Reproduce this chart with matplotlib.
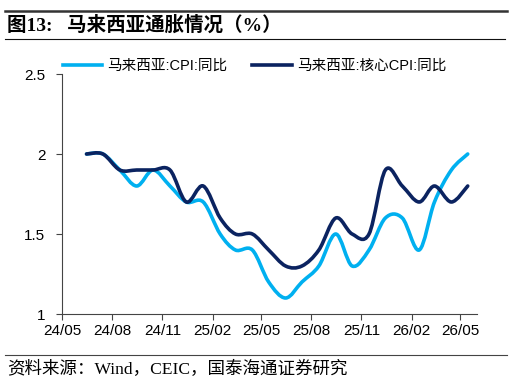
import matplotlib
matplotlib.use("Agg")
import matplotlib.pyplot as plt
import matplotlib.dates as mdates
from matplotlib.path import Path
from matplotlib.patches import PathPatch
from matplotlib.lines import Line2D
import numpy as np
import pandas as pd

# ---- data ----
months = pd.date_range("2024-06-01", periods=24, freq="MS") + pd.Timedelta(days=14)
cpi = [2.0, 2.0, 1.9, 1.8, 1.9, 1.8, 1.7, 1.7, 1.5, 1.4, 1.4, 1.2,
       1.1, 1.2, 1.3, 1.5, 1.3, 1.4, 1.6, 1.6, 1.4, 1.7, 1.9, 2.0]
core = [2.0, 2.0, 1.9, 1.9, 1.9, 1.9, 1.7, 1.8, 1.6, 1.5, 1.5, 1.4,
        1.3, 1.3, 1.4, 1.6, 1.5, 1.5, 1.9, 1.8, 1.7, 1.8, 1.7, 1.8]
tick_dates = pd.date_range("2024-05-01", "2026-05-01", freq="3MS")
tick_labels = ["24/05", "24/08", "24/11", "25/02", "25/05", "25/08", "25/11", "26/02", "26/05"]
series_names = ["马来西亚:CPI:同比", "马来西亚:核心CPI:同比"]
colors = ["#00B0F0", "#0B2360"]

title = "图13:   马来西亚通胀情况（%）"
source = "资料来源：Wind，CEIC，国泰海通证券研究"

W, H = 512, 382
fig = plt.figure(figsize=(W / 100, H / 100), dpi=100)
ax = fig.add_axes([62 / W, 1 - 314 / H, (477 - 62) / W, (314 - 74) / H])

def smooth_path(xs, ys):
    xs = np.asarray(xs, float)
    ys = np.asarray(ys, float)
    P = np.column_stack([xs, ys])
    verts = [P[0]]
    codes = [Path.MOVETO]
    n = len(P)
    for i in range(n - 1):
        p0 = P[i - 1] if i > 0 else P[i]
        p1 = P[i]
        p2 = P[i + 1]
        p3 = P[i + 2] if i + 2 < n else P[i + 1]
        c1 = p1 + (p2 - p0) / 6.0
        c2 = p2 - (p3 - p1) / 6.0
        verts += [c1, c2, p2]
        codes += [Path.CURVE4] * 3
    return Path(verts, codes)

xnum = mdates.date2num(months.to_pydatetime())
for vals, col in zip([cpi, core], colors):
    patch = PathPatch(smooth_path(xnum, vals), facecolor="none", edgecolor=col,
                      lw=2.6, capstyle="round", joinstyle="round")
    ax.add_patch(patch)

ax.set_xlim(mdates.date2num(pd.Timestamp("2024-05-01")), mdates.date2num(pd.Timestamp("2026-06-01")))
ax.set_ylim(1, 2.5)
ax.set_yticks([1, 1.5, 2, 2.5])
ax.set_yticklabels(["1", "1.5", "2", "2.5"])
ax.set_xticks(mdates.date2num(tick_dates.to_pydatetime()))
ax.set_xticklabels(tick_labels)
for s in ["top", "right"]:
    ax.spines[s].set_visible(False)
for s in ["left", "bottom"]:
    ax.spines[s].set_color("#444444")
    ax.spines[s].set_linewidth(0.8)
ax.tick_params(axis="both", direction="out", length=4, width=0.8, color="#444444",
               labelsize=11, labelcolor="black")
ax.tick_params(axis="x", pad=3)
ax.tick_params(axis="y", pad=8)
for lbl in ax.get_xticklabels() + ax.get_yticklabels():
    lbl.set_family(["Liberation Sans", "DejaVu Sans"])

handles = [Line2D([], [], color=c, lw=2.6) for c in colors]
fig.legend(handles, series_names, loc="center left",
           bbox_to_anchor=(63 / W, 1 - 66 / H), ncol=2, frameon=False,
           borderpad=0, borderaxespad=0, handlelength=2.7, handletextpad=0.35,
           columnspacing=1.7,
           prop={"family": ["Liberation Sans", "Noto Sans CJK SC"], "size": 10.5})

# title and rules
fig.add_artist(Line2D([5 / W, 507 / W], [1 - 10.5 / H, 1 - 10.5 / H], color="#333333", lw=1.8))
fig.text(7 / W, 1 - 25 / H, title, fontsize=14, fontweight="bold", va="center", ha="left",
         family=["Liberation Serif", "Noto Sans CJK SC"])
fig.add_artist(Line2D([5 / W, 505 / W], [1 - 39 / H, 1 - 39 / H], color="#111111", lw=0.8))
fig.add_artist(Line2D([5 / W, 507 / W], [1 - 355 / H, 1 - 355 / H], color="#444444", lw=0.8))
fig.text(7 / W, 1 - 369 / H, source, fontsize=12.6, va="center", ha="left",
         family=["Liberation Serif", "Noto Sans CJK SC"])

fig.savefig("out.png", dpi=100)
